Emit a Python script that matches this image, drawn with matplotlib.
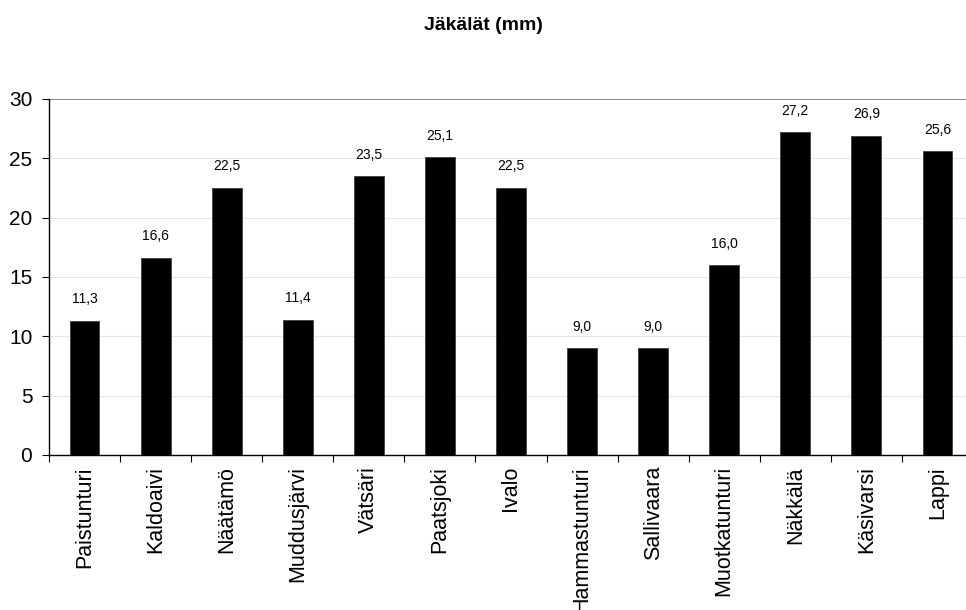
import matplotlib
matplotlib.use("Agg")
import matplotlib.pyplot as plt
import numpy as np

plt.rcParams['font.family'] = ['Liberation Sans', 'DejaVu Sans']

sites = ["Paistunturi", "Kaldoaivi", "Näätämö", "Muddusjärvi", "Vätsäri",
         "Paatsjoki", "Ivalo", "Hammastunturi", "Sallivaara", "Muotkatunturi",
         "Näkkälä", "Käsivarsi", "Lappi"]
lichen_mm = [11.3, 16.6, 22.5, 11.4, 23.5, 25.1, 22.5, 9.0, 9.0, 16.0, 27.2, 26.9, 25.6]
title = "Jäkälät (mm)"

fig = plt.figure(figsize=(9.66, 6.10), dpi=100)
W, H = 966, 610
left, right, top, bottom = 49, 973, 99, 455
ax = fig.add_axes([left / W, 1 - bottom / H, (right - left) / W, (bottom - top) / H])

x = np.arange(len(sites))
ax.bar(x, lichen_mm, width=0.42, color="black", edgecolor="#333333", linewidth=0.5, zorder=3)

for xi, v in zip(x, lichen_mm):
    ax.annotate(f"{v:.1f}".replace(".", ","), (xi, v), xytext=(0, 10.5),
                textcoords="offset points", ha="center", va="bottom", fontsize=10)

ax.set_xlim(-0.5, len(sites) - 0.5)
ax.set_ylim(0, 30)
ax.set_yticks(range(0, 31, 5))
for yv in range(5, 30, 5):
    ax.axhline(yv, color="#e6e6e6", linewidth=0.8, zorder=1)
ax.axhline(30, color="#777777", linewidth=1.2, zorder=2)

ax.set_xticks(x)
ax.set_xticklabels(sites, rotation=90, fontsize=15.5)
ax.set_xticks(np.arange(-0.5, len(sites), 1), minor=True)
ax.tick_params(axis="x", which="major", length=0, pad=8)
ax.tick_params(axis="x", which="minor", length=5, width=0.8, direction="out")
ax.tick_params(axis="y", length=5, width=0.8, direction="out", labelsize=15, pad=7)

for side in ["top", "right"]:
    ax.spines[side].set_visible(False)
ax.spines["left"].set_linewidth(1.0)
ax.spines["bottom"].set_linewidth(1.0)

fig.text(0.5, 1 - 25 / H, title, ha="center", va="center", fontsize=14, fontweight="bold")

fig.savefig("out.png", dpi=100)
